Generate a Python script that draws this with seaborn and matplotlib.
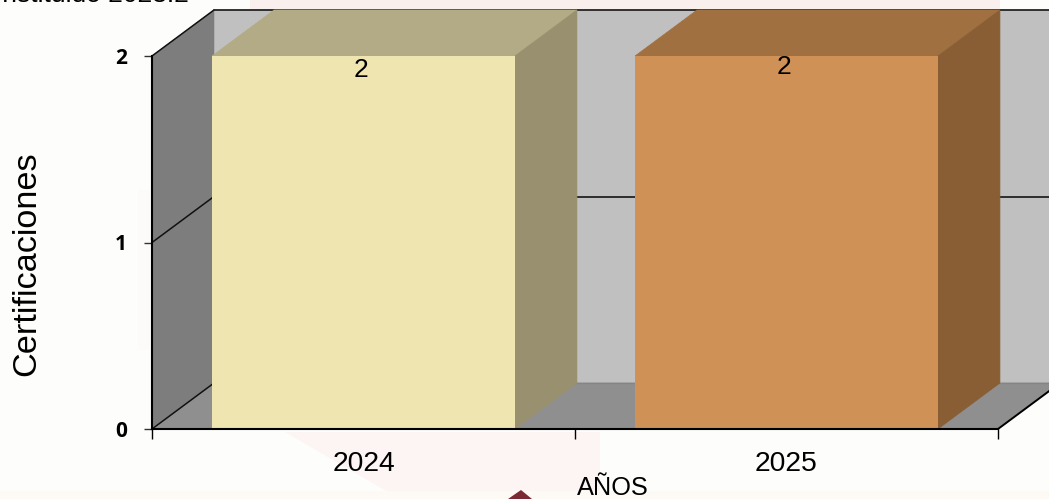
import matplotlib
matplotlib.use('Agg')
import matplotlib.pyplot as plt
import pandas as pd
import seaborn as sns
from matplotlib.patches import Polygon

years = ['2024', '2025']
certificaciones = [2, 2]
colores_frente = ['#efe5b0', '#d09156']
colores_arriba = ['#b3ab85', '#a07040']
colores_lado = ['#98906f', '#8a5e35']
y_ticks = [0, 1, 2]

W, H = 1049, 499
DX, DY = 62 / 423, 46 / 186.5  # profundidad del efecto 3D en unidades de datos

sns.set_style('white')
plt.rcParams['font.family'] = ['Liberation Sans', 'DejaVu Sans']

fig = plt.figure(figsize=(W / 100, H / 100), dpi=100, facecolor='#fdfdfb')
ax = fig.add_axes([152 / W, 1 - 429 / H, 846 / W, 373 / H])
ax.patch.set_alpha(0)


def px(puntos):
    return [(x / W, 1 - y / H) for x, y in puntos]


# marca de agua muy tenue del fondo
fondo = [
    ([(250, 0), (1000, 0), (1000, 9), (250, 9)], '#f9f0ee'),
    ([(285, 432), (600, 432), (600, 499), (400, 499)], '#fcf5f4'),
    ([(0, 491), (1049, 491), (1049, 499), (0, 499)], '#fdfaf5'),
    ([(138, 190), (150, 190), (150, 350), (138, 350)], '#fdfafa'),
    ([(521, 490), (508, 499), (532, 499)], '#7a2a35'),
]
for puntos, color in fondo:
    fig.add_artist(Polygon(px(puntos), closed=True, facecolor=color, edgecolor='none', zorder=-5))

df = pd.DataFrame({'year': years, 'valor': certificaciones})
sns.barplot(data=df, x='year', y='valor', hue='year', palette=colores_frente, saturation=1,
            width=0.716, legend=False, ax=ax)
ax.set_xlim(-0.5, 1.5)
ax.set_ylim(0, 2)


def poly(puntos, color, z):
    ax.add_patch(Polygon(puntos, closed=True, facecolor=color, edgecolor=color, linewidth=0.5,
                         clip_on=False, zorder=z))


# paredes y piso
x0, x1 = ax.get_xlim()
top = y_ticks[-1]
poly([(x0, 0), (x0 + DX, DY), (x0 + DX, top + DY), (x0, top)], '#7d7d7d', 0.5)
poly([(x0 + DX, DY), (x1 + DX, DY), (x1 + DX, top + DY), (x0 + DX, top + DY)], '#c0c0c0', 0.4)
poly([(x0, 0), (x1, 0), (x1 + DX, DY), (x0 + DX, DY)], '#8f8f8f', 0.6)

# lineas de la rejilla
for t in y_ticks:
    ax.plot([x0, x0 + DX], [t, t + DY], color='#111111', lw=1.1, clip_on=False, zorder=0.8)
    if t > 0:
        ax.plot([x0 + DX, x1 + DX], [t + DY, t + DY], color='#222222', lw=1.3, clip_on=False, zorder=0.8)
ax.plot([x0 + DX, x1 + DX], [DY, DY], color='#858585', lw=1, clip_on=False, zorder=0.8)
ax.plot([x1, x1 + DX], [0, DY], color='black', lw=1.4, clip_on=False, zorder=0.9)

# caras de las barras
for barra, arriba, lado in zip(ax.patches[:2], colores_arriba, colores_lado):
    l = barra.get_x()
    r = l + barra.get_width()
    h = barra.get_height()
    barra.set_zorder(3)
    barra.set_edgecolor('none')
    barra.set_linewidth(0)
    poly([(l, h), (r, h), (r + DX, h + DY), (l + DX, h + DY)], arriba, 2)
    poly([(r, 0), (r + DX, DY), (r + DX, h + DY), (r, h)], lado, 2)

ax.annotate(str(certificaciones[0]), (0, certificaciones[0]), xytext=(-2, -10), textcoords='offset points',
            ha='center', va='center', fontsize=19, color='black', zorder=6)
ax.annotate(str(certificaciones[1]), (1, certificaciones[1]), xytext=(-2, -8), textcoords='offset points',
            ha='center', va='center', fontsize=19, color='black', zorder=6)

# ejes
sns.despine(ax=ax, top=True, right=True)
for lado in ['left', 'bottom']:
    ax.spines[lado].set_color('black')
    ax.spines[lado].set_linewidth(1.5)
    ax.spines[lado].set_zorder(5)
ax.set_yticks(y_ticks, labels=[str(t) for t in y_ticks])
ax.tick_params(axis='y', left=True, length=6, width=1, color='#333333', pad=12)
for etiqueta in ax.get_yticklabels():
    etiqueta.set_fontfamily('Open Sans')
    etiqueta.set_fontweight('bold')
    etiqueta.set_fontsize(15)
    etiqueta.set_color('black')
ax.set_xticks([-0.5, 0.5, 1.5], labels=['', '', ''])
ax.set_xticks([0, 1], labels=years, minor=True)
ax.tick_params(axis='x', which='major', bottom=True, length=7, width=1, color='black')
ax.tick_params(axis='x', which='minor', bottom=False, length=0, pad=15.5, labelsize=20.4, labelcolor='black')
ax.set_xlabel('')
ax.set_ylabel('')

fig.text(27 / W, 1 - 264 / H, 'Certificaciones', rotation=90, ha='center', va='center', fontsize=24.7, color='black')
fig.text(613 / W, 1 - 488 / H, 'AÑOS', ha='center', va='center', fontsize=18.3, color='black')
# en la referencia este texto tambien sale cortado por el borde superior
fig.text(-5 / W, 1 - 1.5 / H, 'Instituido 2023.2', ha='left', va='baseline', fontsize=19, color='black')

fig.savefig('out.png', dpi=100, facecolor=fig.get_facecolor())
